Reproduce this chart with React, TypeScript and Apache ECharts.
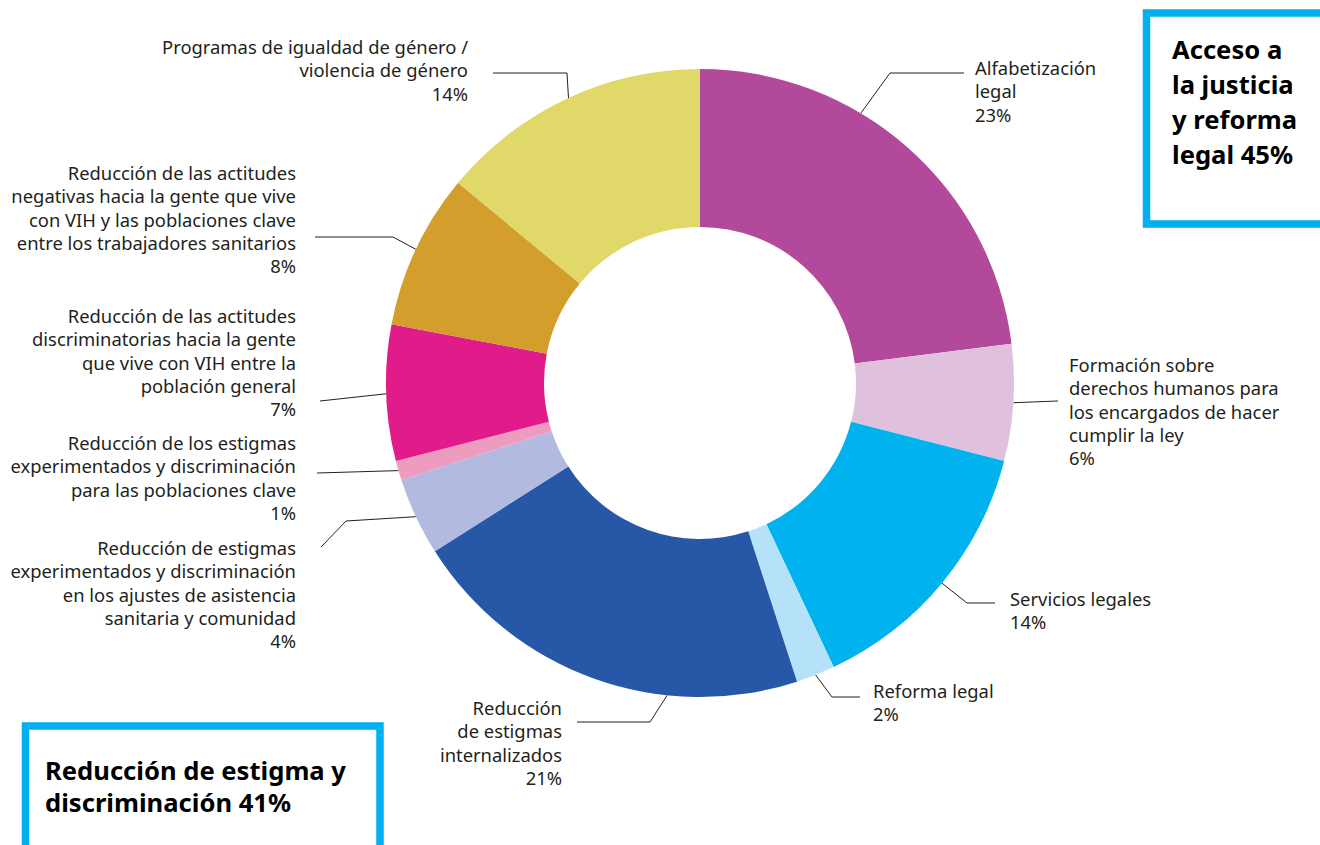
import React, { useEffect, useRef } from "react";
import * as echarts from "echarts";

// ---- Data ----
const CATEGORIES = [
  "Alfabetización\nlegal",
  "Formación sobre\nderechos humanos para\nlos encargados de hacer\ncumplir la ley",
  "Servicios legales",
  "Reforma legal",
  "Reducción\nde estigmas\ninternalizados",
  "Reducción de estigmas\nexperimentados y discriminación\nen los ajustes de asistencia\nsanitaria y comunidad",
  "Reducción de los estigmas\nexperimentados y discriminación\npara las poblaciones clave",
  "Reducción de las actitudes\ndiscriminatorias hacia la gente\nque vive con VIH entre la\npoblación general",
  "Reducción de las actitudes\nnegativas hacia la gente que vive\ncon VIH y las poblaciones clave\nentre los trabajadores sanitarios",
  "Programas de igualdad de género /\nviolencia de género",
];
const VALUES = [23, 6, 14, 2, 21, 4, 1, 7, 8, 14];
const COLORS = [
  "#B3499B", "#E0C1DD", "#00B3EF", "#B5E2F8", "#2757A7",
  "#B2BADF", "#EE9BC0", "#E11B89", "#D39E2C", "#E0D868",
];
// group membership (indices into VALUES)
const GROUP_ACCESS = [0, 1, 2, 3];
const GROUP_STIGMA = [4, 5, 6, 7, 8];

// ---- Layout ----
const CX = 700;
const CY = 383;
const R_IN = 156;
const R_OUT = 314;

type LabelLayout = {
  angle?: number;
  r?: number;
  elbow?: [number, number];
  end: [number, number];
  text: [number, number];
  align: "left" | "right";
};
const LABEL_LAYOUT: LabelLayout[] = [
  { angle: 30.8, elbow: [890, 73], end: [964, 73], text: [975, 56], align: "left" },
  { end: [1058, 401], text: [1069, 353], align: "left" },
  { elbow: [967, 603], end: [995, 603], text: [1010, 587], align: "left" },
  { elbow: [832, 697], end: [860, 697], text: [873, 679], align: "left" },
  { angle: 186, elbow: [650, 722], end: [577, 722], text: [562, 696], align: "right" },
  { elbow: [346, 521], end: [321, 547], text: [296, 536], align: "right" },
  { end: [317, 473], text: [296, 431], align: "right" },
  { r: 302, end: [320, 401], text: [296, 304], align: "right" },
  { elbow: [393, 237], end: [315, 237], text: [296, 161], align: "right" },
  { r: 308, elbow: [567, 73], end: [493, 73], text: [468, 35], align: "right" },
];

const TEXT_COLOR = "#231F20";
const FONT = "'Noto Sans', 'Open Sans', sans-serif";

function pointAt(angleDeg: number, r: number): [number, number] {
  const a = (angleDeg * Math.PI) / 180;
  return [CX + r * Math.sin(a), CY - r * Math.cos(a)];
}

export default function App() {
  const ref = useRef<HTMLDivElement>(null);

  useEffect(() => {
    document.body.style.margin = "0";
    if (!ref.current) return;
    const chart = echarts.init(ref.current, null, { renderer: "svg" });

    const total = VALUES.reduce((a, b) => a + b, 0);
    const mids: number[] = [];
    let cum = 0;
    VALUES.forEach((v) => {
      mids.push(((cum + v / 2) / total) * 360);
      cum += v;
    });
    const accessPct = GROUP_ACCESS.reduce((s, i) => s + VALUES[i], 0);
    const stigmaPct = GROUP_STIGMA.reduce((s, i) => s + VALUES[i], 0);

    chart.setOption({
      animation: false,
      backgroundColor: "#ffffff",
      graphic: [
        {
          type: "rect",
          shape: { x: 1146.5, y: 13, width: 200, height: 211 },
          style: { fill: "none", stroke: "#00B0F0", lineWidth: 7.5 },
        },
        {
          type: "text",
          style: {
            text: `Acceso a\nla justicia\ny reforma\nlegal ${accessPct}%`,
            x: 1172,
            y: 32,
            fontFamily: FONT,
            fontWeight: "bold",
            fontSize: 25.6,
            lineHeight: 35,
            fill: "#000000",
            verticalAlign: "top",
            align: "left",
          },
        },
        {
          type: "rect",
          shape: { x: 25.5, y: 726, width: 354.5, height: 200 },
          style: { fill: "none", stroke: "#00B0F0", lineWidth: 7.5 },
        },
        {
          type: "text",
          style: {
            text: `Reducción de estigma y\ndiscriminación ${stigmaPct}%`,
            x: 45,
            y: 754,
            fontFamily: FONT,
            fontWeight: "bold",
            fontSize: 25.6,
            lineHeight: 32,
            fill: "#000000",
            verticalAlign: "top",
            align: "left",
          },
        },
      ],
      series: [
        {
          type: "pie",
          center: [CX, CY],
          radius: [R_IN, R_OUT],
          startAngle: 90,
          clockwise: true,
          avoidLabelOverlap: false,
          data: CATEGORIES.map((name, i) => ({
            name,
            value: VALUES[i],
            itemStyle: { color: COLORS[i] },
          })),
          label: {
            show: true,
            position: "outside",
            formatter: (p: any) => `${p.name}\n${p.value}%`,
            fontFamily: FONT,
            fontSize: 18.4,
            lineHeight: 23.3,
            color: TEXT_COLOR,
          },
          labelLine: {
            show: true,
            lineStyle: { color: TEXT_COLOR, width: 1 },
          },
          labelLayout: (params: any) => {
            const i = params.dataIndex;
            const L = LABEL_LAYOUT[i];
            const start = pointAt(L.angle ?? mids[i], L.r ?? R_OUT);
            const elbow = L.elbow ?? [
              (start[0] + L.end[0]) / 2,
              (start[1] + L.end[1]) / 2,
            ];
            return {
              x: L.text[0],
              y: L.text[1],
              align: L.align,
              verticalAlign: "top",
              labelLinePoints: [start, elbow, L.end],
            };
          },
          emphasis: { disabled: true },
        },
      ],
    });

    return () => chart.dispose();
  }, []);

  return (
    <div
      ref={ref}
      style={{ position: "fixed", left: 0, top: 0, width: 1320, height: 845 }}
    />
  );
}
